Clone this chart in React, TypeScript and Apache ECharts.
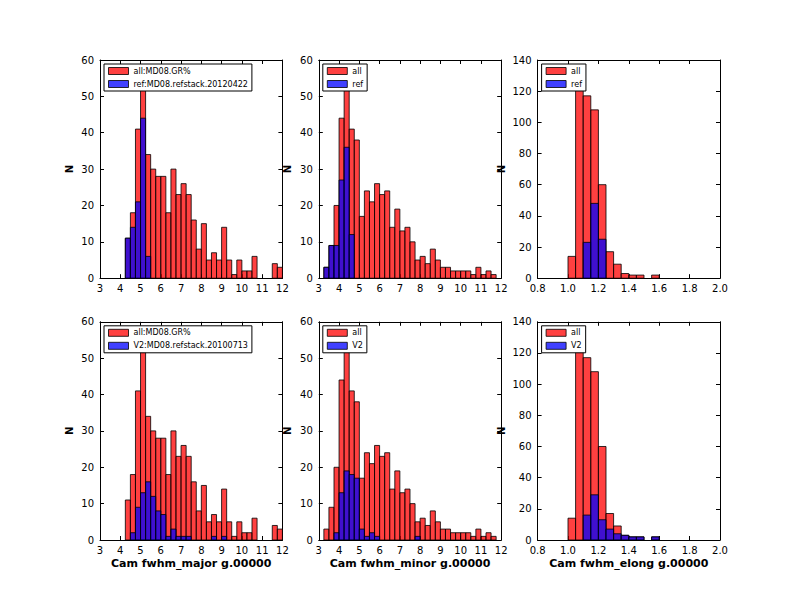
import React, { useEffect, useRef } from "react";
import * as echarts from "echarts";

// Histogram bins (left edge of first bin, bin width) and counts
const majorStart = 4.25;
const majorWidth = 0.25;
const majorAll = [11, 18, 41, 55, 34, 30, 28, 28, 18, 30, 23, 26, 23, 16, 8, 15, 5, 7, 5, 14, 5, 1, 5, 2, 2, 6, 0, 0, 0, 4, 3];
const majorRef = [11, 14, 21, 44, 6];
const majorV2 = [0, 2, 9, 13, 16, 12, 8, 7, 1, 3, 1, 1, 1, 0, 0, 0, 0, 1, 0, 1];

const minorStart = 3.25;
const minorWidth = 0.25;
const minorAll = [3, 9, 20, 44, 55, 41, 38, 17, 24, 21, 26, 23, 24, 14, 19, 13, 14, 10, 5, 6, 4, 8, 5, 3, 3, 2, 2, 2, 2, 1, 3, 1, 2, 1];
const minorRef = [3, 9, 9, 27, 36, 12];
const minorV2 = [0, 0, 2, 13, 19, 18, 17, 3, 1, 2, 1, 0, 0, 0, 0, 0, 0, 0, 1];

const elongStart = 1.0;
const elongWidth = 0.05;
const elongAll = [14, 129, 117, 108, 60, 17, 9, 3, 2, 2, 0, 2];
const elongRef = [0, 0, 23, 48, 25];
const elongV2 = [0, 0, 16, 29, 13, 7, 4, 3, 2, 2, 0, 2];

const allNameMajor = "all:MD08.GR%";
const refNameMajor = "ref:MD08.refstack.20120422";
const v2NameMajor = "V2:MD08.refstack.20100713";
const xNames = ["Cam fwhm_major g.00000", "Cam fwhm_minor g.00000", "Cam fwhm_elong g.00000"];

const FONT = "DejaVu Sans";
const RED = "rgba(255,0,0,0.75)";
const BLUE = "rgba(0,0,255,0.75)";
const EDGE = "rgba(0,0,0,0.8)";

function toBars(start: number, width: number, counts: number[]) {
  return counts
    .map((n, i) => [start + i * width, start + (i + 1) * width, n])
    .filter((d) => d[2] > 0);
}

type Panel = {
  start: number;
  width: number;
  all: number[];
  sub: number[];
  allName: string;
  subName: string;
  xMin: number;
  xMax: number;
  xInt: number;
  yMax: number;
  yInt: number;
  xName: string;
  elong: boolean;
};

const panels: Panel[] = [
  { start: majorStart, width: majorWidth, all: majorAll, sub: majorRef, allName: allNameMajor, subName: refNameMajor, xMin: 3, xMax: 12, xInt: 1, yMax: 60, yInt: 10, xName: "", elong: false },
  { start: minorStart, width: minorWidth, all: minorAll, sub: minorRef, allName: "all", subName: "ref", xMin: 3, xMax: 12, xInt: 1, yMax: 60, yInt: 10, xName: "", elong: false },
  { start: elongStart, width: elongWidth, all: elongAll, sub: elongRef, allName: "all", subName: "ref", xMin: 0.8, xMax: 2.0, xInt: 0.2, yMax: 140, yInt: 20, xName: "", elong: true },
  { start: majorStart, width: majorWidth, all: majorAll, sub: majorV2, allName: allNameMajor, subName: v2NameMajor, xMin: 3, xMax: 12, xInt: 1, yMax: 60, yInt: 10, xName: xNames[0], elong: false },
  { start: minorStart, width: minorWidth, all: minorAll, sub: minorV2, allName: "all", subName: "V2", xMin: 3, xMax: 12, xInt: 1, yMax: 60, yInt: 10, xName: xNames[1], elong: false },
  { start: elongStart, width: elongWidth, all: elongAll, sub: elongV2, allName: "all", subName: "V2", xMin: 0.8, xMax: 2.0, xInt: 0.2, yMax: 140, yInt: 20, xName: xNames[2], elong: true },
];

const GRID_LEFTS = [100, 318.8, 537.6];
const GRID_TOPS = [60, 321.8];
const GRID_W = 182.4;
const GRID_H = 218.2;

function makeRender(fill: string) {
  return (params: any, api: any) => {
    const a = api.coord([api.value(0), 0]);
    const b = api.coord([api.value(1), api.value(2)]);
    return {
      type: "rect",
      shape: { x: a[0], y: b[1], width: b[0] - a[0], height: a[1] - b[1] },
      style: { fill, stroke: EDGE, lineWidth: 1 },
    };
  };
}

function buildOption() {
  const grid: any[] = [];
  const xAxis: any[] = [];
  const yAxis: any[] = [];
  const series: any[] = [];
  const legend: any[] = [];
  const n = panels.length;
  const axisLine = { show: true, onZero: false, lineStyle: { color: "#000", width: 1 } };
  const axisTick = { show: true, inside: true, length: 4, lineStyle: { color: "#000", width: 1 } };

  panels.forEach((p, k) => {
    const col = k % 3;
    const row = Math.floor(k / 3);
    const left = GRID_LEFTS[col];
    const top = GRID_TOPS[row];
    grid.push({ left, top, width: GRID_W, height: GRID_H, containLabel: false });
    xAxis[k] = {
      type: "value", gridIndex: k, position: "bottom", min: p.xMin, max: p.xMax, interval: p.xInt,
      axisLine, axisTick, splitLine: { show: false },
      axisLabel: {
        color: "#000", fontSize: 10, fontFamily: FONT, margin: 5,
        formatter: (v: number) => (p.elong ? v.toFixed(1) : String(Math.round(v))),
      },
      name: p.xName, nameLocation: "middle", nameGap: 18,
      nameTextStyle: { color: "#000", fontSize: 11, fontWeight: "bold", fontFamily: FONT },
    };
    xAxis[k + n] = {
      type: "value", gridIndex: k, position: "top", min: p.xMin, max: p.xMax, interval: p.xInt,
      axisLine, axisTick, splitLine: { show: false }, axisLabel: { show: false },
    };
    yAxis[k] = {
      type: "value", gridIndex: k, position: "left", min: 0, max: p.yMax, interval: p.yInt,
      axisLine, axisTick, splitLine: { show: false },
      axisLabel: { color: "#000", fontSize: 10, fontFamily: FONT, margin: 6 },
      name: "N", nameLocation: "middle", nameRotate: 90, nameGap: p.elong ? 31 : 26,
      nameTextStyle: { color: "#000", fontSize: 10, fontWeight: "bold", fontFamily: FONT },
    };
    yAxis[k + n] = {
      type: "value", gridIndex: k, position: "right", min: 0, max: p.yMax, interval: p.yInt,
      axisLine, axisTick, splitLine: { show: false }, axisLabel: { show: false },
    };
    series.push({
      type: "custom", name: p.allName, xAxisIndex: k, yAxisIndex: k,
      data: toBars(p.start, p.width, p.all), encode: { x: [0, 1], y: 2 },
      renderItem: makeRender(RED), itemStyle: { color: RED }, z: 2,
    });
    series.push({
      type: "custom", name: p.subName, xAxisIndex: k, yAxisIndex: k,
      data: toBars(p.start, p.width, p.sub), encode: { x: [0, 1], y: 2 },
      renderItem: makeRender(BLUE), itemStyle: { color: BLUE }, z: 3,
    });
    legend.push({
      left: left + 4, top: top + 4, orient: "vertical", selectedMode: false,
      backgroundColor: "#fff", borderColor: "#000", borderWidth: 1, borderRadius: 0,
      padding: [2, 4, 2, 4], itemGap: 3, itemWidth: 20, itemHeight: 7, icon: "rect",
      textStyle: { color: "#000", fontSize: 8, fontFamily: FONT, lineHeight: 10, padding: [0, 0, 0, 0] },
      data: [
        { name: p.allName, itemStyle: { color: RED, borderColor: EDGE, borderWidth: 1 } },
        { name: p.subName, itemStyle: { color: BLUE, borderColor: EDGE, borderWidth: 1 } },
      ],
      z: 10,
    });
  });

  return {
    animation: false,
    backgroundColor: "#fff",
    textStyle: { fontFamily: FONT },
    grid, xAxis, yAxis, series, legend,
  };
}

export default function App() {
  const ref = useRef<HTMLDivElement>(null);
  useEffect(() => {
    if (!ref.current) return;
    const chart = echarts.init(ref.current, undefined, { renderer: "svg" });
    chart.setOption(buildOption() as any);
    return () => chart.dispose();
  }, []);
  return (
    <div
      ref={ref}
      style={{ position: "absolute", left: 0, top: 0, width: 800, height: 600, background: "#fff" }}
    />
  );
}
